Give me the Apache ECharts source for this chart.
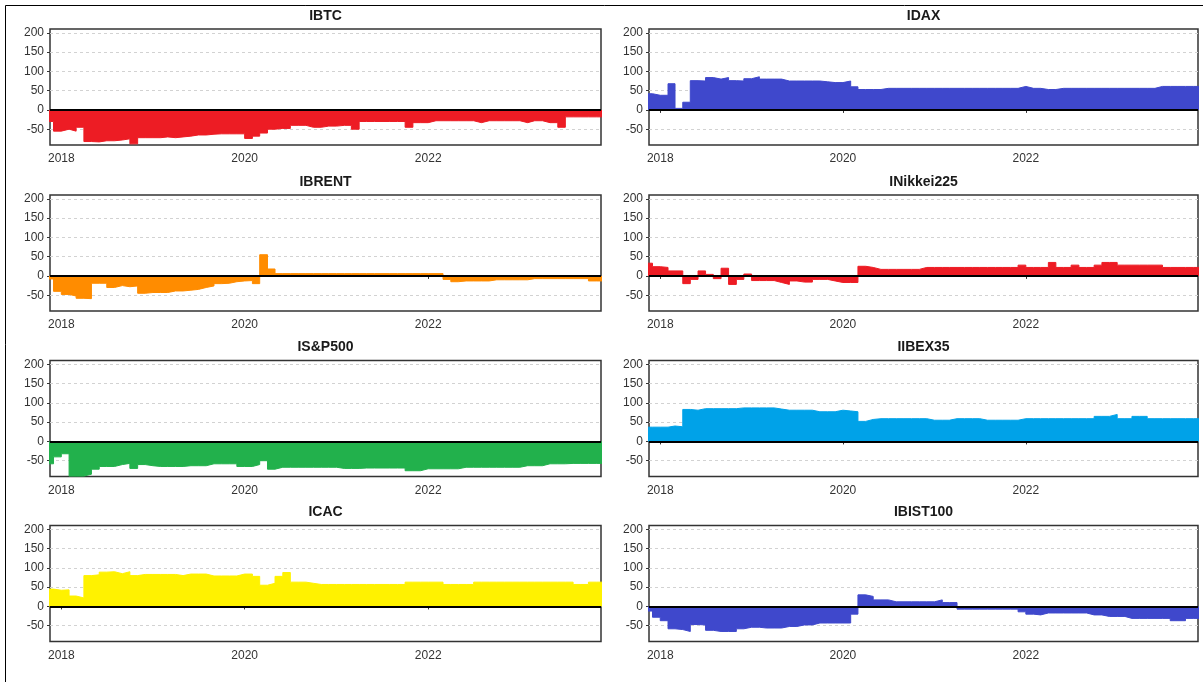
<!DOCTYPE html>
<html><head><meta charset="utf-8">
<script src="https://cdn.jsdelivr.net/npm/echarts@6/dist/echarts.min.js"></script>
<style>html,body{margin:0;padding:0;background:#fff}#c{width:1203px;height:682px}</style>
</head><body><div id="c"></div>
<script>
// Monthly observations (value holds until next month)
const dates = [
'2017-11','2017-12',
'2018-01','2018-02','2018-03','2018-04','2018-05','2018-06','2018-07','2018-08','2018-09','2018-10','2018-11','2018-12',
'2019-01','2019-02','2019-03','2019-04','2019-05','2019-06','2019-07','2019-08','2019-09','2019-10','2019-11','2019-12',
'2020-01','2020-02','2020-03','2020-04','2020-05','2020-06','2020-07','2020-08','2020-09','2020-10','2020-11','2020-12',
'2021-01','2021-02','2021-03','2021-04','2021-05','2021-06','2021-07','2021-08','2021-09','2021-10','2021-11','2021-12',
'2022-01','2022-02','2022-03','2022-04','2022-05','2022-06','2022-07','2022-08','2022-09','2022-10','2022-11','2022-12',
'2023-01','2023-02','2023-03','2023-04','2023-05','2023-06','2023-07','2023-08','2023-09','2023-10','2023-11','2023-12'
];

const IBTC = [
-30,-55,
-50,-55,-45,-82,-83,-80,-80,-78,-75,-88,-72,-72,
-72,-70,-72,-70,-68,-65,-65,-63,-62,-62,-62,-62,
-74,-68,-60,-50,-48,-48,-40,-40,-45,-45,-42,-42,
-40,-40,-50,-30,-30,-30,-30,-30,-30,-45,-33,-33,
-28,-28,-28,-28,-28,-28,-33,-28,-28,-28,-28,-28,
-33,-28,-28,-33,-33,-45,-18,-18,-18,-18,-18,-18];

const IDAX = [
42,38,
38,68,4,20,76,75,84,80,84,76,75,81,
86,80,80,80,75,75,75,75,75,73,71,71,
75,60,53,53,53,56,56,56,56,56,56,56,
56,56,56,56,56,56,56,56,56,56,56,61,
56,56,53,53,56,56,56,56,56,56,56,56,
56,56,56,56,56,61,61,61,61,61,61,61];

const IBRENT = [
-8,-40,
-48,-52,-58,-59,-19,-19,-30,-25,-28,-26,-45,-43,
-43,-43,-39,-39,-37,-35,-30,-26,-20,-19,-15,-13,
-12,-20,55,18,6,6,6,6,6,6,6,6,
6,6,6,6,6,6,6,6,6,6,6,6,
6,6,-9,-15,-13,-13,-13,-13,-10,-10,-10,-10,
-10,-7,-7,-7,-7,-7,-7,-7,-7,-13,-13,-13];

const INIKKEI225 = [
33,24,
22,13,13,-20,-9,13,4,-7,20,-22,-9,5,
-12,-12,-12,-17,-22,-13,-16,-16,-9,-9,-13,-17,
-17,-17,25,22,17,17,17,17,17,17,22,22,
22,22,22,22,22,22,22,22,22,22,22,28,
22,22,22,35,22,22,28,22,22,28,35,35,
28,28,28,28,28,28,22,22,22,22,22,22];

const ISP500 = [
-58,-40,
-32,-90,-90,-85,-72,-65,-65,-60,-57,-70,-60,-63,
-65,-65,-65,-65,-63,-63,-63,-58,-58,-58,-58,-65,
-65,-60,-50,-72,-67,-67,-67,-67,-67,-67,-67,-67,
-70,-70,-70,-69,-69,-69,-69,-69,-69,-76,-76,-71,
-71,-71,-71,-71,-67,-67,-67,-67,-67,-67,-67,-67,
-63,-63,-63,-58,-58,-58,-57,-57,-57,-57,-57,-57];

const IIBEX35 = [
37,37,
37,40,38,83,81,85,85,85,85,85,87,87,
87,87,87,84,81,81,81,81,77,77,77,81,
79,77,52,57,59,59,59,59,59,59,59,55,
55,55,59,59,59,59,55,55,55,55,55,59,
59,59,59,59,59,59,59,59,59,65,65,70,
59,59,65,65,59,59,59,59,59,59,59,59];

const ICAC = [
45,42,
43,27,22,80,82,89,90,85,90,80,83,83,
83,83,83,80,84,84,84,79,79,79,79,84,
84,78,55,60,78,88,63,63,60,57,57,57,
57,57,57,57,57,57,57,57,57,63,63,63,
63,63,57,57,57,57,63,63,63,63,63,63,
63,63,63,63,63,63,63,57,57,63,63,63];

const IBIST100 = [
-12,-28,
-37,-58,-60,-65,-47,-48,-62,-65,-65,-65,-58,-54,
-54,-56,-56,-56,-52,-52,-48,-48,-43,-43,-43,-43,
-43,-20,30,26,17,17,12,12,12,12,12,12,
17,10,10,-7,-7,-7,-7,-7,-7,-7,-7,-14,
-20,-22,-17,-17,-17,-17,-17,-17,-22,-22,-26,-26,
-26,-31,-31,-31,-31,-31,-31,-37,-37,-31,-31,-31];

const panelTitles = ['IBTC','IDAX','IBRENT','INikkei225','IS&P500','IIBEX35','ICAC','IBIST100'];
const panelValues = [IBTC, IDAX, IBRENT, INIKKEI225, ISP500, IIBEX35, ICAC, IBIST100];
const panelColors = ['#ED1C24','#3F48CC','#FF8C00','#ED1C24','#22B14C','#00A2E8','#FFF200','#3F48CC'];
const yTicks = [-50, 0, 50, 100, 150, 200];
const yGrid = [-50, 50, 100, 150, 200];
const xTickDates = ['2018-01-01', '2020-01-01', '2022-01-01'];
const xMin = '2017-11-17';
const xMax = '2023-11-20';

const ts = s => { const p = s.split('-').map(Number); return new Date(p[0], p[1] - 1, p[2] || 1).getTime(); };

const FONT = 'Liberation Sans, Arial, sans-serif';
const colLeft = [50, 649];
const colWidth = [551, 549];
const rowTop = [29, 195, 360.5, 525.5];
const plotH = 116;

const grids = [], xAxes = [], yAxes = [], series = [], titles = [];
const xTicks = xTickDates.map(ts);

panelTitles.forEach((name, i) => {
  const col = i % 2, row = Math.floor(i / 2);
  grids.push({left: colLeft[col], top: rowTop[row], width: colWidth[col], height: plotH,
    show: true, borderColor: '#333', borderWidth: 1.5, backgroundColor: 'transparent', containLabel: false});
  titles.push({text: name, left: colLeft[col] + colWidth[col] / 2, top: rowTop[row] - 20, textAlign: 'center', padding: 0,
    textStyle: {fontSize: 14, fontWeight: 'bold', color: '#1a1a1a', fontFamily: FONT}});
  xAxes.push({type: 'value', gridIndex: i, min: ts(xMin), max: ts(xMax),
    axisLine: {show: false}, splitLine: {show: false},
    axisTick: {show: true, customValues: xTicks, length: 3, lineStyle: {color: '#333'}},
    axisLabel: {customValues: xTicks, formatter: v => String(new Date(v).getFullYear()),
      color: '#333', fontSize: 12, margin: 8, fontFamily: FONT, hideOverlap: false}});
  yAxes.push({type: 'value', gridIndex: i, min: -91, max: 210,
    axisLine: {show: false},
    axisTick: {show: true, customValues: yTicks, length: 3, lineStyle: {color: '#333'}},
    axisLabel: {customValues: yTicks, color: '#333', fontSize: 12, margin: 6, fontFamily: FONT},
    splitLine: {show: false}});
  series.push({type: 'line', name, xAxisIndex: i, yAxisIndex: i, step: 'end', symbol: 'none', showSymbol: false,
    data: dates.map((d, k) => [ts(d), panelValues[i][k]]),
    lineStyle: {width: 1, color: panelColors[i]}, itemStyle: {color: panelColors[i]},
    areaStyle: {color: panelColors[i], opacity: 1}, z: 3,
    markLine: {silent: true, symbol: 'none', animation: false, label: {show: false},
      data: [{yAxis: 0, lineStyle: {color: '#000', width: 2, type: 'solid'}}]}});
  series.push({type: 'line', xAxisIndex: i, yAxisIndex: i, data: [], z: 1, silent: true,
    markLine: {silent: true, symbol: 'none', animation: false, label: {show: false}, z: 1,
      lineStyle: {color: '#d2d2d2', width: 1, type: [3, 3]},
      data: yGrid.map(v => ({yAxis: v}))}});
});

const chart = echarts.init(document.getElementById('c'));
chart.setOption({
  animation: false,
  backgroundColor: '#fff',
  title: titles,
  grid: grids,
  xAxis: xAxes,
  yAxis: yAxes,
  series,
  graphic: [{type: 'rect', shape: {x: 5.5, y: 5.5, width: 1210, height: 690}, style: {fill: 'none', stroke: '#000', lineWidth: 1}, silent: true, z: 100}]
});
</script></body></html>
